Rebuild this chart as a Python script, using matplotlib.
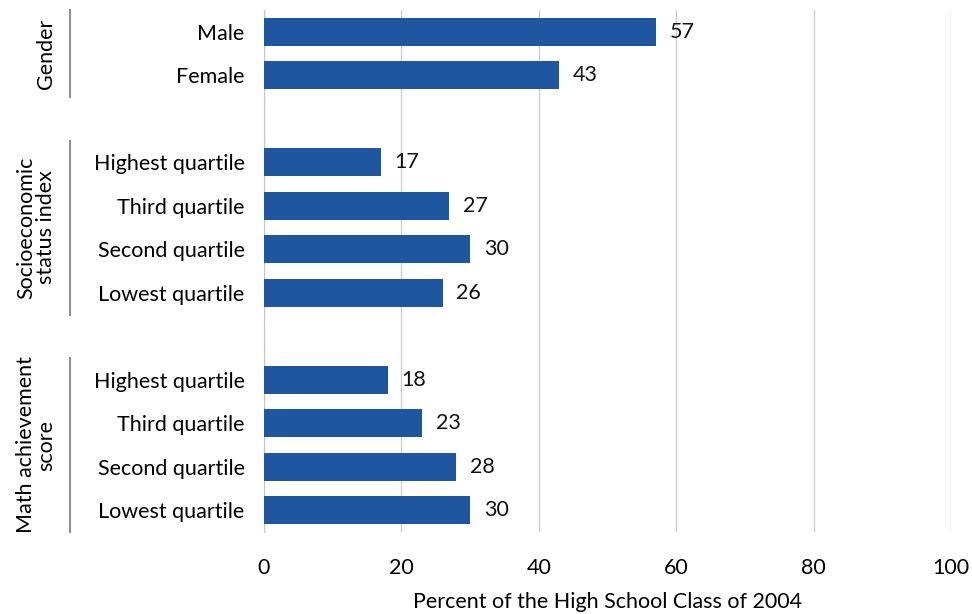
import matplotlib
matplotlib.use("Agg")
import matplotlib.pyplot as plt

plt.rcParams['font.family'] = ['Lato', 'DejaVu Sans']

# category labels top to bottom, with the group each belongs to
gender_labels = ["Male", "Female"]
gender_values = [57, 43]
ses_labels = ["Highest quartile", "Third quartile", "Second quartile", "Lowest quartile"]
ses_values = [17, 27, 30, 26]
math_labels = ["Highest quartile", "Third quartile", "Second quartile", "Lowest quartile"]
math_values = [18, 23, 28, 30]
group_titles = ["Gender", "Socioeconomic\nstatus index", "Math achievement\nscore"]

xticks = [0, 20, 40, 60, 80, 100]
bar_color = "#1F56A0"
fs = 15.5

# rows: one blank slot between groups
groups = [(gender_labels, gender_values), (ses_labels, ses_values), (math_labels, math_values)]
pos, labels, values, spans = [], [], [], []
row = 0
for lab, val in groups:
    start = row
    for l, v in zip(lab, val):
        pos.append(row)
        labels.append(l)
        values.append(v)
        row += 1
    spans.append((start, row - 1))
    row += 1

fig = plt.figure(figsize=(9.72, 6.14), dpi=100)
ax = fig.add_axes([264 / 972, 1 - 532 / 614, (951 - 264) / 972, (532 - 10) / 614])

ax.barh(pos, values, height=0.65, color=bar_color, zorder=3)
for p, v in zip(pos, values):
    ax.text(v + 2, p, str(v), va="center", ha="left", fontsize=fs, color="#111111")

ax.set_ylim(11.5, -0.5)
ax.set_xlim(0, 100)
ax.set_xticks(xticks)
ax.set_xticklabels([str(t) for t in xticks], fontsize=fs)
ax.set_yticks(pos)
ax.set_yticklabels(labels, fontsize=fs)
ax.tick_params(axis="both", length=0)
ax.tick_params(axis="x", pad=19)
ax.tick_params(axis="y", pad=14)
ax.grid(axis="x", color="#D0D0D0", linewidth=1, zorder=0)
for s in ["top", "right", "bottom"]:
    ax.spines[s].set_visible(False)
ax.spines["left"].set_color("#C8C8C8")
ax.set_xlabel("Percent of the High School Class of 2004", fontsize=fs, labelpad=10)

# group brackets and titles on the left
for (a, b), title in zip(spans, group_titles):
    y0 = a - 0.5
    y1 = b + 0.5
    ax.plot([-28.3, -28.3], [y0, y1], color="#909090", linewidth=1.5,
            transform=ax.transData, clip_on=False)
    ax.text(-30.3, (y0 + y1) / 2, title, rotation=90, ha="right", va="center",
            fontsize=fs, multialignment="center", linespacing=1.0)

fig.savefig("out.png", dpi=100)
